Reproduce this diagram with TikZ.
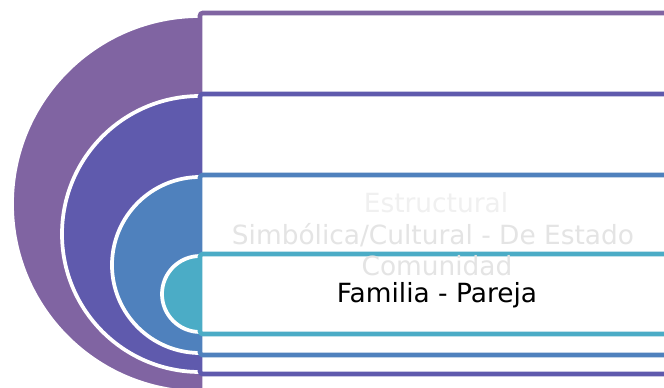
\documentclass[tikz,border=0pt]{standalone}
\usepackage{fontspec}
\setmainfont{DejaVu Sans}
\usepackage{tikz}
\definecolor{ringA}{HTML}{8064A2}
\definecolor{ringB}{HTML}{5F5AAD}
\definecolor{ringC}{HTML}{4F81BD}
\definecolor{ringD}{HTML}{4BACC6}
\definecolor{faintA}{HTML}{F0F0F0}
\definecolor{faintB}{HTML}{E4E4E4}
\tikzset{
  disc/.style={fill=#1, draw=white, line width=2.8pt},
  band/.style={draw=#1, fill=white, line width=3.4pt, rounded corners=2pt},
  lvltext/.style={font=\fontsize{19.8}{23}\selectfont, inner sep=0pt},
}

\begin{document}
\begin{tikzpicture}[x=0.75pt, y=-0.75pt]
	\useasboundingbox (0,0) rectangle (664,388);
	\clip (0,0) rectangle (664,388);
	\filldraw[disc=ringA] (200,204) circle[radius=188];
	\draw[band=ringA] (200,13) rectangle (690,398);
	\filldraw[disc=ringB] (200,234) circle[radius=138];
	\draw[band=ringB] (200,94) rectangle (690,374);
	\filldraw[disc=ringC] (200,265) circle[radius=88];
	\draw[band=ringC] (200,175) rectangle (690,355);
	\filldraw[disc=ringD] (200,294) circle[radius=38];
	\draw[band=ringD] (200,254) rectangle (690,334);
	\node[lvltext, text=faintA] (estructural) at (436,203) {Estructural};
	\node[lvltext, text=faintB] (simbolica) at (433,235) {Simbólica/Cultural - De Estado};
	\node[lvltext, text=faintB] (comunidad) at (437,266) {Comunidad};
	\node[lvltext] (familia) at (437,295) {Familia - Pareja};
\end{tikzpicture}
\end{document}
